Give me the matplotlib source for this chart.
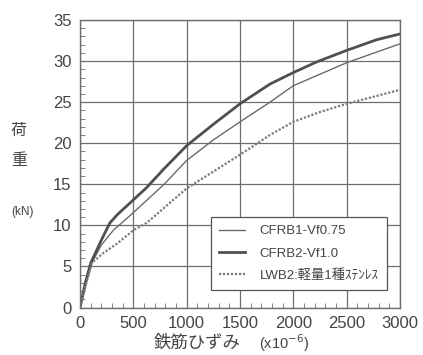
import matplotlib.pyplot as plt
from matplotlib.ticker import MultipleLocator

# 鉄筋ひずみ (x10^-6) と 荷重 (kN)
cfrb1_strain = [0, 50, 110, 200, 312, 470, 781, 1000, 1250, 1500, 1781, 2000, 2500, 3000]
cfrb1_load = [0, 2.6, 5.4, 7.6, 9.4, 11.2, 14.9, 17.9, 20.4, 22.6, 25.0, 27.0, 29.8, 32.1]

cfrb2_strain = [0, 50, 100, 150, 200, 280, 350, 500, 625, 781, 1000, 1250, 1500,
                1781, 2000, 2219, 2500, 2781, 3000]
cfrb2_load = [0, 3.0, 5.4, 6.8, 8.2, 10.3, 11.3, 13.1, 14.6, 16.8, 19.7, 22.3, 24.8,
              27.2, 28.6, 29.9, 31.3, 32.6, 33.3]

lwb2_strain = [0, 50, 110, 216, 350, 500, 625, 1000, 1500, 1781, 2000, 2250, 2500, 3000]
lwb2_load = [0, 2.5, 5.4, 6.6, 7.8, 9.4, 10.3, 14.5, 18.6, 21.0, 22.6, 23.8, 24.8, 26.5]

labels = ["CFRB1-Vf0.75", "CFRB2-Vf1.0", "LWB2:軽量1種ｽﾃﾝﾚｽ"]

plt.rcParams["font.family"] = ["Liberation Sans", "Noto Sans CJK JP", "DejaVu Sans"]

fig = plt.figure(figsize=(4.23, 3.55), dpi=100)
ax = fig.add_axes([80 / 423, 1 - 307.5 / 355, 320 / 423, 287.5 / 355])

ax.plot(cfrb1_strain, cfrb1_load, color="#6a6a6a", linewidth=1.0, label=labels[0])
ax.plot(cfrb2_strain, cfrb2_load, color="#505050", linewidth=2.0, label=labels[1])
ax.plot(lwb2_strain, lwb2_load, color="#7a7a7a", linewidth=1.6,
        linestyle=(0, (1, 0.8)), label=labels[2])

ax.set_xlim(0, 3000)
ax.set_ylim(0, 35)
ax.xaxis.set_major_locator(MultipleLocator(500))
ax.yaxis.set_major_locator(MultipleLocator(5))
ax.xaxis.set_minor_locator(MultipleLocator(100))
ax.yaxis.set_minor_locator(MultipleLocator(1))
ax.grid(True, which="major", color="#6e6e6e", linewidth=0.9)
ax.tick_params(which="both", direction="in", color="#6e6e6e", labelcolor="#444444",
               labelsize=12, pad=6)
ax.tick_params(which="major", length=0)
ax.tick_params(which="minor", length=3.5)
for sp in ax.spines.values():
    sp.set_color("#6e6e6e")
    sp.set_linewidth(1.0)

leg = ax.legend(loc="lower right", bbox_to_anchor=(0.959, 0.061), borderaxespad=0,
                fontsize=9.5, frameon=True, fancybox=False, edgecolor="#555555",
                framealpha=1, handlelength=2.0, labelspacing=0.75, borderpad=0.6,
                handletextpad=1.1, labelcolor="#444444")
leg.get_frame().set_linewidth(0.9)

jp = ["Noto Sans CJK JP", "DejaVu Sans"]
fig.text(19 / 423, 1 - 130 / 355, "荷", family=jp, fontsize=11.5, color="#444444",
         ha="center", va="center")
fig.text(19 / 423, 1 - 160 / 355, "重", family=jp, fontsize=11.5, color="#444444",
         ha="center", va="center")
fig.text(22 / 423, 1 - 212 / 355, "(kN)", fontsize=8.5, color="#444444",
         ha="center", va="center")
fig.text(197 / 423, 1 - 343 / 355, "鉄筋ひずみ", family=jp, fontsize=12.5,
         color="#444444", ha="center", va="center")
fig.text(284 / 423, 1 - 343 / 355, "(x10$^{-6}$)", fontsize=10.5, color="#444444",
         ha="center", va="center")

fig.savefig("out.png", dpi=100)
